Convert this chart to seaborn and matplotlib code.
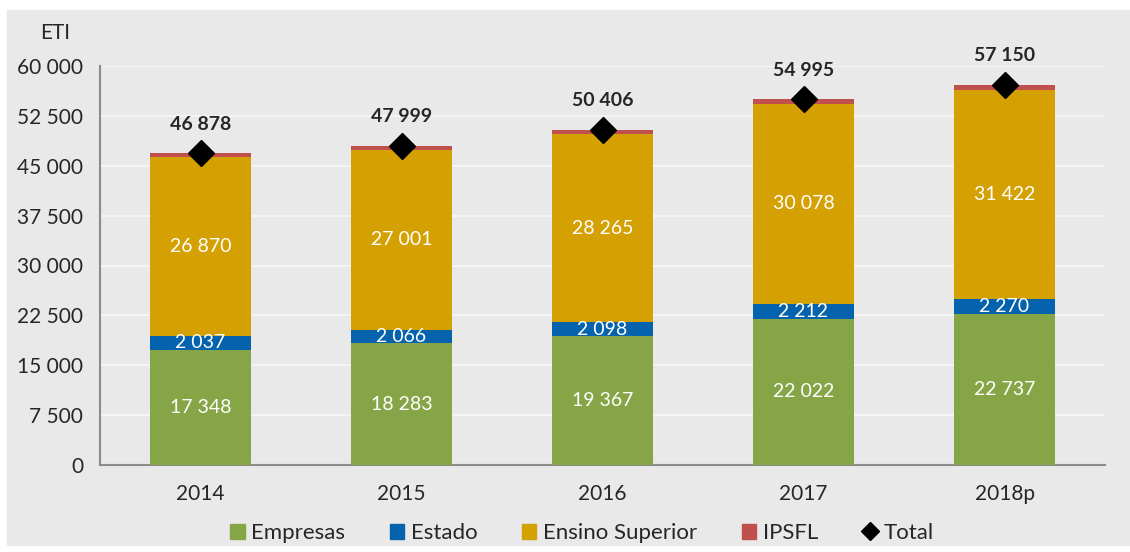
import numpy as np
import matplotlib.pyplot as plt
import seaborn as sns
from matplotlib.patches import Patch, Rectangle
from matplotlib.lines import Line2D

years = ["2014", "2015", "2016", "2017", "2018p"]
empresas = [17348, 18283, 19367, 22022, 22737]
estado = [2037, 2066, 2098, 2212, 2270]
ensino_superior = [26870, 27001, 28265, 30078, 31422]
ipsfl = [623, 649, 676, 683, 721]
total = [46878, 47999, 50406, 54995, 57150]

series = [("Empresas", empresas, "#86a546"),
          ("Estado", estado, "#0563ae"),
          ("Ensino Superior", ensino_superior, "#d4a002"),
          ("IPSFL", ipsfl, "#c0504d")]

def fmt(v):
    return f"{v:,}".replace(",", " ")

sns.set_style("white")
plt.rcParams["font.family"] = ["Lato", "DejaVu Sans"]

fig = plt.figure(figsize=(11.3, 5.52), dpi=100)
fig.patches.append(Rectangle((7 / 1130, 7 / 552), 1 - 7 / 1130, 1 - 17 / 552,
                             transform=fig.transFigure, color="#e9e9e9", zorder=-10))
ax = fig.add_axes([100 / 1130, 1 - 465 / 552, 1005 / 1130, 399 / 552])
ax.set_facecolor("#e9e9e9")

# stacked bars
bottom = np.zeros(len(years))
for name, vals, col in series:
    sns.barplot(x=years, y=vals, bottom=bottom, color=col, width=0.5,
                ax=ax, saturation=1, linewidth=0, zorder=3)
    if name != "IPSFL":
        for i, v in enumerate(vals):
            ax.text(i, bottom[i] + v / 2, fmt(v), ha="center", va="center",
                    color="white", fontsize=14, zorder=5)
    bottom += np.array(vals)

ax.plot(range(len(years)), total, linestyle="none", marker="D", color="black",
        markersize=13, zorder=6)
for i, v in enumerate(total):
    ax.text(i, v + 4400, fmt(v), ha="center", va="center", fontsize=14,
            fontweight="bold", zorder=6)

ax.set_ylim(0, 60000)
ax.set_xlim(-0.5, len(years) - 0.5)
ax.set_yticks(np.arange(0, 60001, 7500))
ax.set_yticklabels([fmt(v) for v in range(0, 60001, 7500)], fontsize=15)
ax.set_xticks(range(len(years)))
ax.set_xticklabels(years, fontsize=15)
ax.set_xticks(np.arange(-0.5, len(years)), minor=True)
ax.tick_params(axis="x", which="major", length=0, pad=14)
ax.tick_params(axis="x", which="minor", length=6, color="#8c8c8c", direction="out")
ax.tick_params(axis="y", length=6, color="#8c8c8c", direction="out", pad=6)
ax.yaxis.grid(True, color="#f4f4f4", linewidth=1.5, zorder=0)
ax.set_axisbelow(True)
for s in ["top", "right"]:
    ax.spines[s].set_visible(False)
for s in ["left", "bottom"]:
    ax.spines[s].set_color("#8c8c8c")
    ax.spines[s].set_linewidth(1.5)
ax.set_xlabel("")
ax.set_ylabel("")
fig.text(55 / 1130, 1 - 33 / 552, "ETI", ha="center", va="center", fontsize=15)

handles = [Patch(color=c, label=n) for n, _, c in series]
handles.append(Line2D([], [], linestyle="none", marker="D", color="black",
                      markersize=9, label="Total"))
fig.legend(handles=handles, loc="center", bbox_to_anchor=(582 / 1130, 1 - 533 / 552),
           ncol=5, frameon=False, fontsize=16, handlelength=0.65, handleheight=0.65,
           handletextpad=0.3, columnspacing=2.0)

fig.savefig("out.png", dpi=100)
